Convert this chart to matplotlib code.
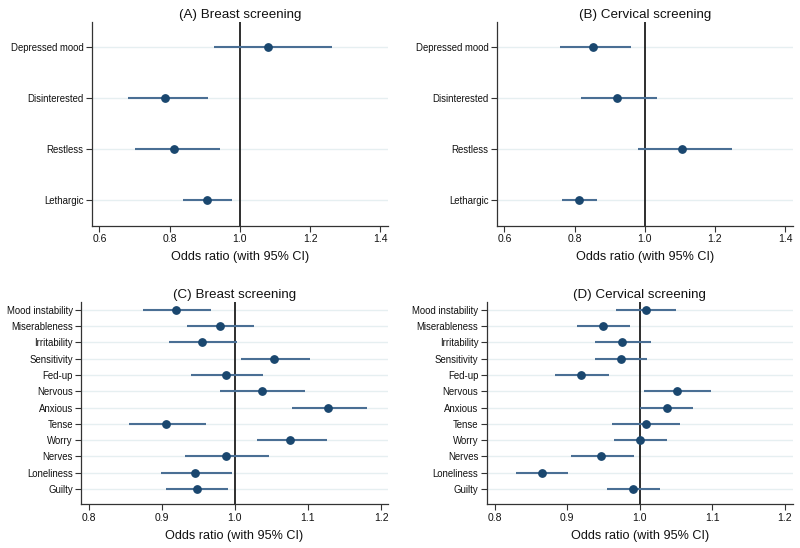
import matplotlib
matplotlib.use("Agg")
import matplotlib.pyplot as plt
import numpy as np

plt.rcParams['font.family'] = ['Liberation Sans', 'DejaVu Sans']

# ---- Data: panels A/B (4 items) ----
items_ab = ["Depressed mood", "Disinterested", "Restless", "Lethargic"]
a_or = [1.080, 0.787, 0.813, 0.905]
a_lo = [0.926, 0.681, 0.700, 0.838]
a_hi = [1.262, 0.909, 0.942, 0.978]

b_or = [0.853, 0.920, 1.106, 0.812]
b_lo = [0.758, 0.817, 0.981, 0.764]
b_hi = [0.962, 1.036, 1.249, 0.863]

# ---- Data: panels C/D (12 items) ----
items_cd = ["Mood instability", "Miserableness", "Irritability", "Sensitivity",
            "Fed-up", "Nervous", "Anxious", "Tense", "Worry", "Nerves",
            "Loneliness", "Guilty"]
c_or = [0.920, 0.979, 0.955, 1.054, 0.988, 1.037, 1.128, 0.906, 1.076, 0.988, 0.946, 0.948]
c_lo = [0.875, 0.934, 0.910, 1.008, 0.940, 0.980, 1.078, 0.855, 1.030, 0.932, 0.899, 0.906]
c_hi = [0.968, 1.026, 1.003, 1.103, 1.039, 1.096, 1.181, 0.961, 1.126, 1.047, 0.996, 0.991]

d_or = [1.008, 0.949, 0.976, 0.974, 0.919, 1.051, 1.037, 1.008, 1.000, 0.947, 0.865, 0.991]
d_lo = [0.967, 0.913, 0.938, 0.938, 0.883, 1.006, 1.000, 0.962, 0.964, 0.905, 0.830, 0.955]
d_hi = [1.050, 0.986, 1.015, 1.010, 0.957, 1.099, 1.073, 1.056, 1.037, 0.992, 0.901, 1.028]

titles = ["(A) Breast screening", "(B) Cervical screening",
          "(C) Breast screening", "(D) Cervical screening"]
xticks_ab = [0.6, 0.8, 1.0, 1.2, 1.4]
xticks_cd = [0.8, 0.9, 1.0, 1.1, 1.2]

MARKER = "#1a476f"
CI = "#4a6f94"
GRID = "#e6eff1"
TEXT = "#111111"

W, H = 800, 548
fig = plt.figure(figsize=(W / 100, H / 100), dpi=100)


def box(l, r, t, b):
    return [l / W, 1 - b / H, (r - l) / W, (b - t) / H]


axes_pos = [
    box(91.7, 387.7, 21.7, 225.7),
    box(496.7, 792.7, 21.7, 225.7),
    box(81.3, 387.7, 301.7, 504.3),
    box(486.7, 792.7, 301.7, 504.3),
]

panels = [
    (items_ab, a_or, a_lo, a_hi, xticks_ab, (0.578, 1.421), (0.5, 4.5)),
    (items_ab, b_or, b_lo, b_hi, xticks_ab, (0.578, 1.422), (0.5, 4.5)),
    (items_cd, c_or, c_lo, c_hi, xticks_cd, (0.790, 1.209), (0.06, 12.5)),
    (items_cd, d_or, d_lo, d_hi, xticks_cd, (0.789, 1.211), (0.06, 12.5)),
]

for pos, title, (items, orv, lo, hi, xt, xl, yl) in zip(axes_pos, titles, panels):
    ax = fig.add_axes(pos)
    n = len(items)
    y = np.arange(n, 0, -1)
    for yy in y:
        ax.axhline(yy, color=GRID, lw=1.0, zorder=0)
    ax.axvline(1.0, color="#1e1e1e", lw=1.3, zorder=1)
    ax.hlines(y, lo, hi, color=CI, lw=1.5, zorder=2)
    ax.plot(orv, y, "o", color=MARKER, ms=5.3, zorder=3, mec=MARKER)
    ax.set_xlim(*xl)
    ax.set_ylim(*yl)
    ax.set_yticks(y)
    ax.set_yticklabels(items, fontsize=6.9, color=TEXT)
    ax.set_xticks(xt)
    ax.set_xticklabels([f"{v:.1f}" for v in xt], fontsize=7.5, color=TEXT)
    ax.tick_params(axis="both", direction="out", length=4, width=0.8, color="#333333", pad=2)
    for s in ["top", "right"]:
        ax.spines[s].set_visible(False)
    for s in ["left", "bottom"]:
        ax.spines[s].set_color("#333333")
        ax.spines[s].set_linewidth(0.9)
    ax.set_xlabel("Odds ratio (with 95% CI)", fontsize=9.1, labelpad=5, color=TEXT)
    ax.set_title(title, fontsize=9.6, pad=3, color=TEXT)

fig.savefig("out.png", dpi=100)
